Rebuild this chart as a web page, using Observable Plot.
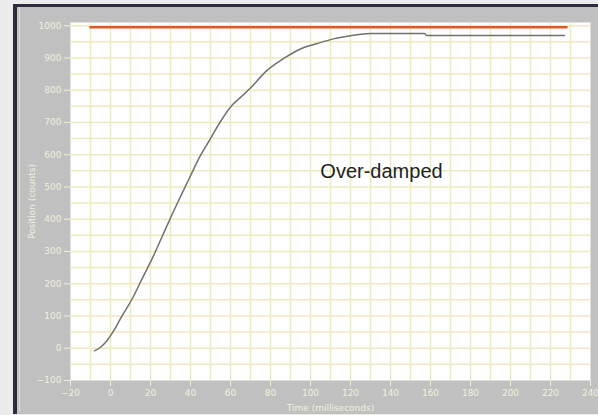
<!DOCTYPE html>
<html>
<head>
<meta charset="utf-8">
<script src="https://cdn.jsdelivr.net/npm/d3@7"></script>
<script src="https://cdn.jsdelivr.net/npm/@observablehq/plot@0.6"></script>
<style>
  html, body { margin: 0; padding: 0; background: #ececec; }
  #wrap { position: absolute; left: 13px; top: 4px; width: 581px; height: 407px;
          background: #c0c0c0; border-left: 4px solid #2c2c3c; border-top: 3px solid #2c2c3c; }
  #inner { position: absolute; left: 19px; top: 7px; width: 1px; height: 404px; background: #e6e2c8; }
  #chart { position: absolute; left: 0; top: 0; }
  #chart svg { background: transparent; }
</style>
</head>
<body>
<div id="wrap"></div>
<div id="inner"></div>
<div id="chart"></div>
<script>
// Response curve (time in ms, position in counts)
const time = [-8, -5, -2, 1.5, 5, 11, 16, 21, 25, 30, 35, 40, 45, 50, 55, 61, 64, 70, 78, 87, 95, 103, 112, 120, 130, 157, 158, 227];
const position = [-8, 3, 22, 53, 92, 155, 218, 280, 335, 404, 470, 535, 598, 650, 703, 755, 772, 807, 860, 900, 928, 944, 960, 969, 976, 976, 970, 970];

// Set-point line
const setTime = [-10, 228];
const setPosition = [995, 995];

// Ticks and grid
const xTicks = [-20, 0, 20, 40, 60, 80, 100, 120, 140, 160, 180, 200, 220, 240];
const yTicks = [-100, 0, 100, 200, 300, 400, 500, 600, 700, 800, 900, 1000];
const xGrid = [-10, 0, 10, 20, 30, 40, 50, 60, 70, 80, 90, 100, 110, 120, 130, 140, 150, 160, 170, 180, 190, 200, 210, 220, 230];
const yGrid = [-50, 0, 50, 100, 150, 200, 250, 300, 350, 400, 450, 500, 550, 600, 650, 700, 750, 800, 850, 900, 950, 1000];

const annotation = [{t: 135.5, v: 547, label: "Over-damped"}];

const curve = time.map((t, i) => ({t, v: position[i]}));
const setLine = setTime.map((t, i) => ({t, v: setPosition[i]}));

const tickColor = "#f2f0dc";

const chart = Plot.plot({
  width: 598,
  height: 415,
  marginLeft: 70,
  marginRight: 8,
  marginTop: 22,
  marginBottom: 35,
  style: {fontFamily: "DejaVu Sans", background: "transparent"},
  x: {domain: [-20, 240]},
  y: {domain: [-100, 1010]},
  marks: [
    Plot.frame({fill: "white", stroke: "none"}),
    Plot.ruleX(xGrid, {stroke: "#eeeac0", strokeWidth: 1.5}),
    Plot.ruleY(yGrid, {stroke: "#eeeac0", strokeWidth: 1.5}),
    Plot.axisX({ticks: xTicks, tickSize: 6, tickPadding: 3, color: tickColor, fontSize: 9, tickFormat: "d",
      label: "Time (milliseconds)", labelAnchor: "center", labelArrow: "none", labelOffset: 30}),
    Plot.axisY({ticks: yTicks, tickSize: 6, tickPadding: 3, color: tickColor, fontSize: 9, tickFormat: "d",
      label: "Position (counts)", labelAnchor: "center", labelArrow: "none", labelOffset: 42}),
    Plot.line(setLine, {x: "t", y: "v", stroke: "#e4532c", strokeWidth: 2.5}),
    Plot.line(curve, {x: "t", y: "v", stroke: "#707070", strokeWidth: 1.5, curve: "monotone-x"}),
    Plot.text(annotation, {x: "t", y: "v", text: "label", fontSize: 20, fill: "#222",
      fontFamily: "Liberation Sans"})
  ]
});
document.getElementById("chart").appendChild(chart);
</script>
</body>
</html>
